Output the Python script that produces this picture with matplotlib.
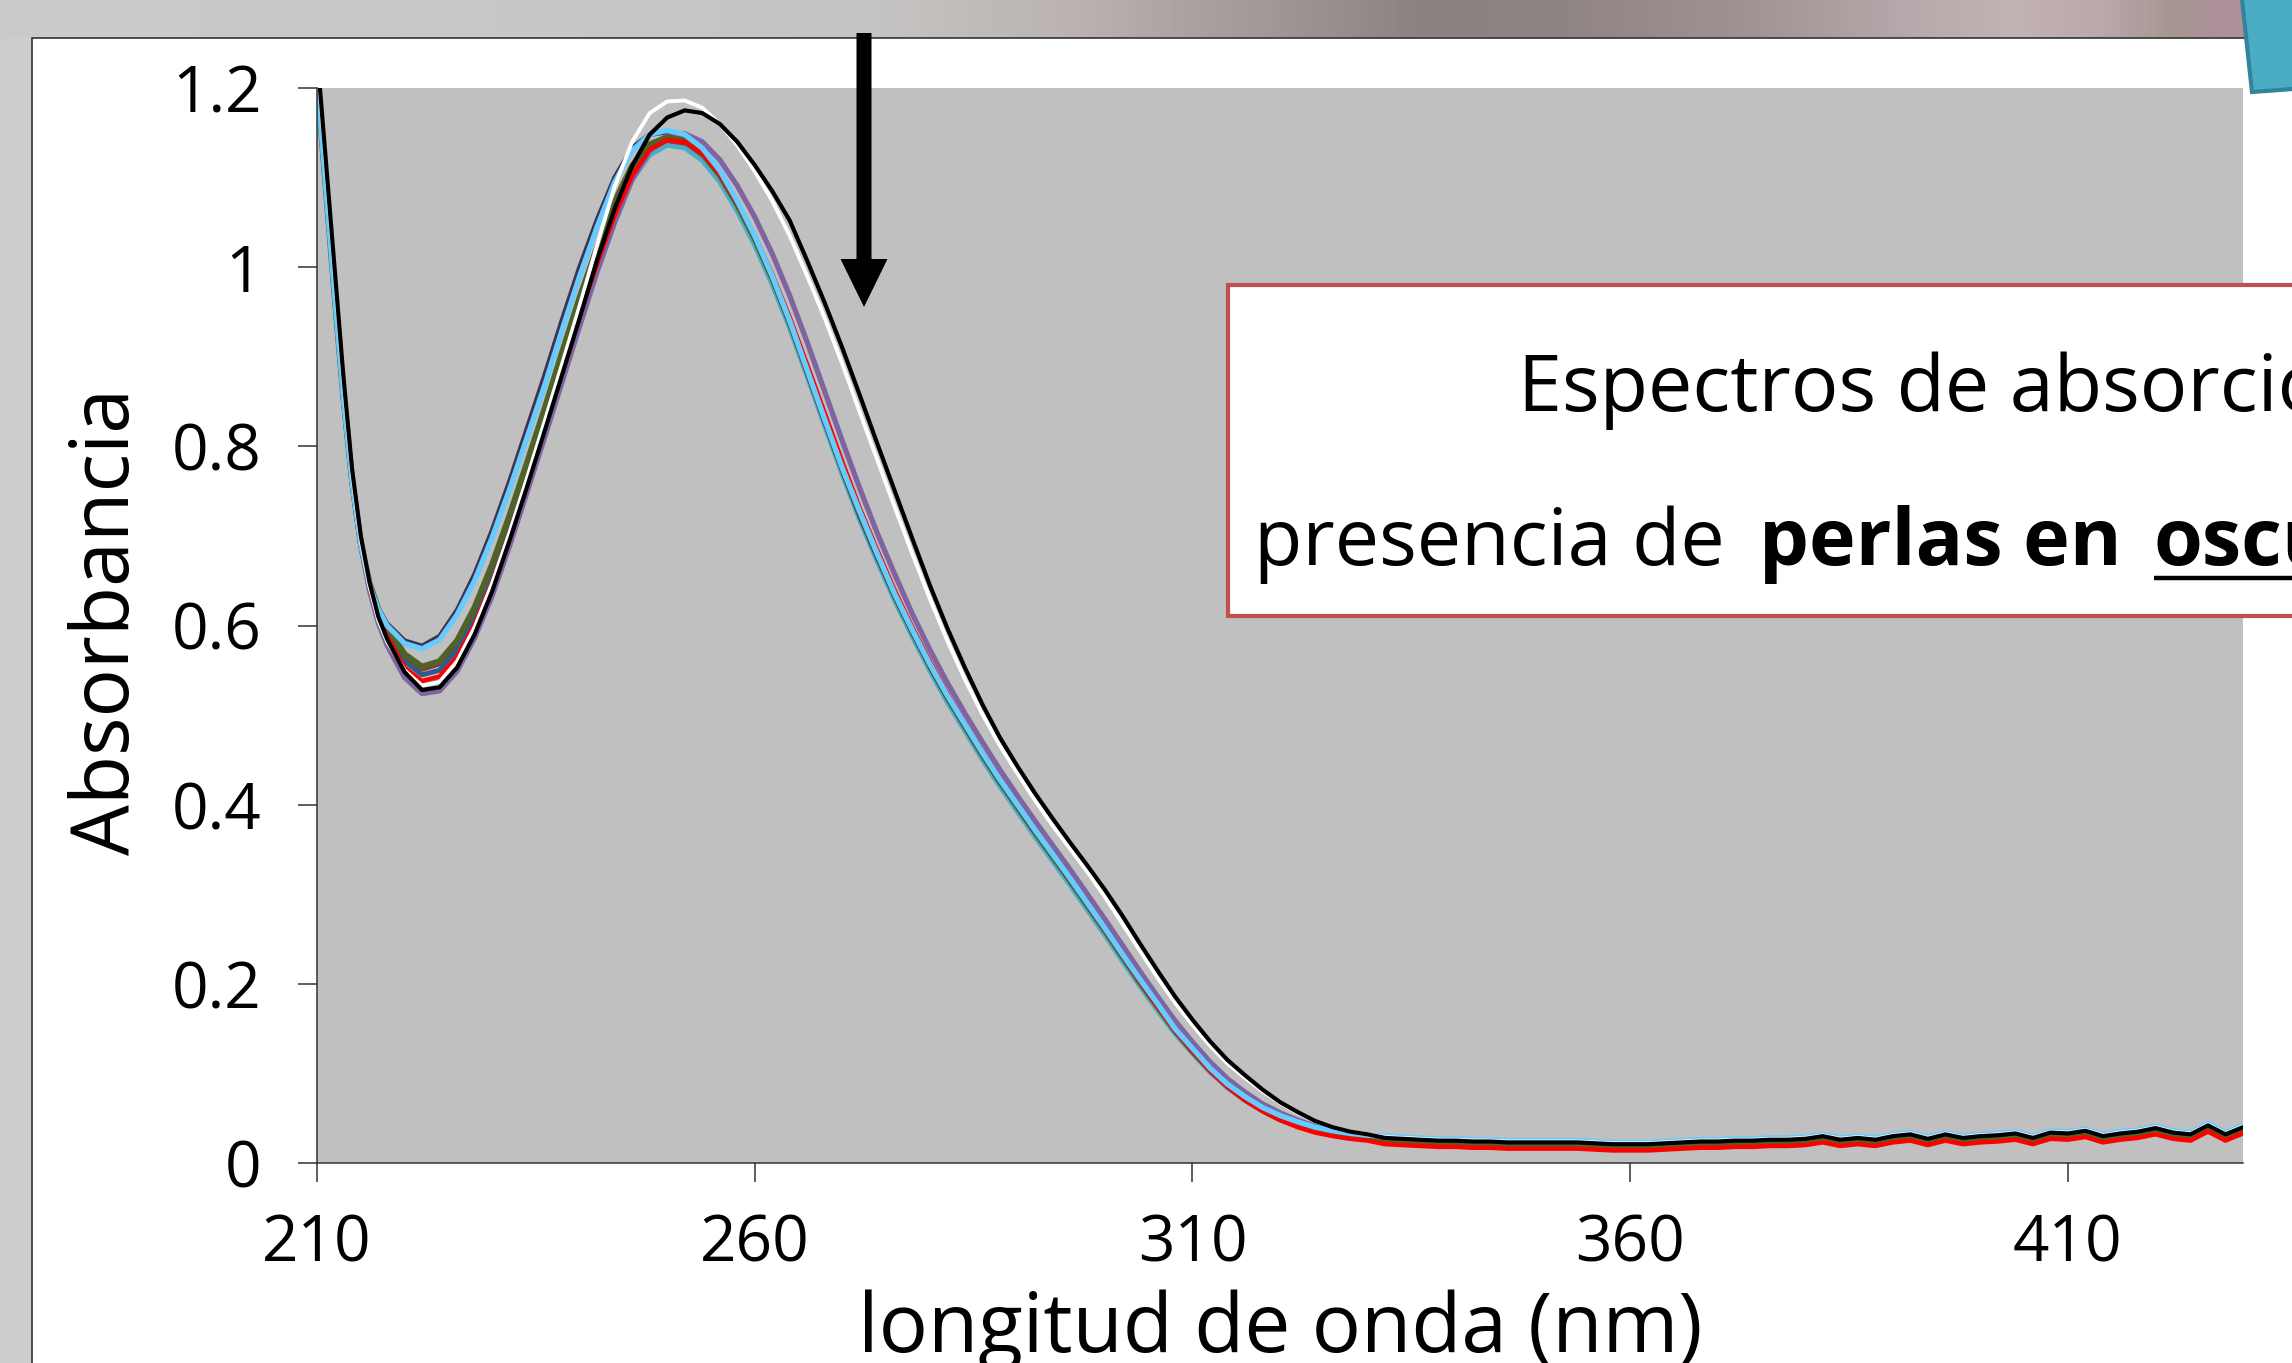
import numpy as np
import matplotlib
matplotlib.use("Agg")
import matplotlib.pyplot as plt
import matplotlib.patches as mpatches
from matplotlib.colors import LinearSegmentedColormap

plt.rcParams['font.family'] = ['Open Sans', 'DejaVu Sans']

W, H = 2292, 1363

# wavelength grid (nm)
wl_main = [210, 211, 212, 213, 214, 215, 216, 217, 218] + list(range(220, 331, 2))
wl_tail = list(range(332, 431, 2))
wl = wl_main + wl_tail

# absorbance spectra (main band 210-330 nm, then tail 332-430 nm)
cyan_main = [1.21, 1.09, 0.97, 0.855, 0.76, 0.69, 0.645, 0.618, 0.600,
             0.580, 0.574, 0.584, 0.612, 0.650, 0.698, 0.752, 0.810,
             0.868, 0.930, 0.990, 1.045, 1.095, 1.130, 1.148, 1.153,
             1.148, 1.133, 1.108, 1.074, 1.035, 0.990, 0.940, 0.885,
             0.830, 0.776, 0.727, 0.680, 0.635, 0.595, 0.557, 0.522,
             0.490, 0.458, 0.428, 0.400, 0.372, 0.345, 0.318, 0.290,
             0.262, 0.233, 0.205, 0.178, 0.150, 0.128, 0.106, 0.088,
             0.074, 0.062, 0.053, 0.046, 0.040, 0.036, 0.033, 0.031]
cyan_tail = [0.030, 0.029, 0.028, 0.027, 0.027, 0.026, 0.026, 0.025, 0.025, 0.025,
             0.025, 0.025, 0.024, 0.023, 0.023, 0.023, 0.024, 0.025, 0.026, 0.026,
             0.027, 0.027, 0.028, 0.028, 0.029, 0.032, 0.028, 0.030, 0.028, 0.032,
             0.034, 0.029, 0.034, 0.030, 0.032, 0.033, 0.035, 0.030, 0.036, 0.035,
             0.038, 0.032, 0.035, 0.037, 0.041, 0.036, 0.034, 0.044, 0.034, 0.042]

black_main = [1.24, 1.12, 1.00, 0.88, 0.775, 0.700, 0.648, 0.610, 0.585,
              0.548, 0.528, 0.531, 0.553, 0.590, 0.638, 0.695, 0.755,
              0.817, 0.880, 0.943, 1.008, 1.065, 1.113, 1.148, 1.167,
              1.175, 1.172, 1.160, 1.140, 1.114, 1.085, 1.052, 1.007,
              0.960, 0.910, 0.857, 0.803, 0.750, 0.697, 0.645, 0.597,
              0.553, 0.512, 0.475, 0.443, 0.413, 0.385, 0.358, 0.332,
              0.305, 0.276, 0.245, 0.215, 0.186, 0.160, 0.136, 0.115,
              0.098, 0.082, 0.068, 0.057, 0.047, 0.040, 0.035, 0.032]
black_tail = [0.028, 0.027, 0.026, 0.025, 0.025, 0.024, 0.024, 0.023, 0.023, 0.023,
              0.023, 0.023, 0.022, 0.021, 0.021, 0.021, 0.022, 0.023, 0.024, 0.024,
              0.025, 0.025, 0.026, 0.026, 0.027, 0.030, 0.026, 0.028, 0.026, 0.030,
              0.032, 0.027, 0.032, 0.028, 0.030, 0.031, 0.033, 0.028, 0.034, 0.033,
              0.036, 0.030, 0.033, 0.035, 0.039, 0.034, 0.032, 0.042, 0.032, 0.040]

white_main = [1.235, 1.115, 0.995, 0.875, 0.770, 0.695, 0.643, 0.606, 0.582,
              0.550, 0.533, 0.537, 0.560, 0.598, 0.647, 0.704, 0.765,
              0.828, 0.892, 0.957, 1.025, 1.090, 1.140, 1.172, 1.185,
              1.186, 1.178, 1.160, 1.136, 1.107, 1.074, 1.035, 0.990,
              0.943, 0.892, 0.838, 0.785, 0.732, 0.680, 0.630, 0.583,
              0.540, 0.501, 0.466, 0.435, 0.405, 0.377, 0.351, 0.325,
              0.297, 0.267, 0.237, 0.207, 0.179, 0.154, 0.131, 0.111,
              0.095, 0.080, 0.067, 0.056, 0.047, 0.040, 0.035, 0.032]
white_tail = [0.029, 0.028, 0.027, 0.026, 0.026, 0.025, 0.025, 0.024, 0.024, 0.024,
              0.024, 0.024, 0.023, 0.022, 0.022, 0.022, 0.023, 0.024, 0.025, 0.025,
              0.026, 0.026, 0.027, 0.027, 0.028, 0.031, 0.027, 0.029, 0.027, 0.031,
              0.033, 0.028, 0.033, 0.029, 0.031, 0.032, 0.034, 0.029, 0.035, 0.034,
              0.037, 0.031, 0.034, 0.036, 0.040, 0.035, 0.033, 0.043, 0.033, 0.041]

purple_main = [1.22, 1.10, 0.98, 0.865, 0.765, 0.690, 0.640, 0.603, 0.578,
               0.542, 0.524, 0.527, 0.549, 0.586, 0.633, 0.689, 0.749,
               0.810, 0.872, 0.934, 0.995, 1.050, 1.098, 1.130, 1.147,
               1.149, 1.140, 1.120, 1.091, 1.056, 1.015, 0.968, 0.916,
               0.861, 0.806, 0.753, 0.703, 0.657, 0.613, 0.573, 0.536,
               0.502, 0.470, 0.439, 0.410, 0.382, 0.355, 0.328, 0.300,
               0.272, 0.243, 0.214, 0.186, 0.159, 0.135, 0.113, 0.094,
               0.079, 0.066, 0.056, 0.048, 0.041, 0.036, 0.032, 0.029]
purple_tail = [0.024, 0.023, 0.022, 0.021, 0.021, 0.020, 0.020, 0.019, 0.019, 0.019,
               0.019, 0.019, 0.018, 0.017, 0.017, 0.017, 0.018, 0.019, 0.020, 0.020,
               0.021, 0.021, 0.022, 0.022, 0.023, 0.026, 0.022, 0.024, 0.022, 0.026,
               0.028, 0.023, 0.028, 0.024, 0.026, 0.027, 0.029, 0.024, 0.030, 0.029,
               0.032, 0.026, 0.029, 0.031, 0.035, 0.030, 0.028, 0.038, 0.028, 0.036]

red_main = [1.215, 1.095, 0.975, 0.860, 0.762, 0.690, 0.642, 0.610, 0.588,
            0.553, 0.538, 0.543, 0.565, 0.601, 0.648, 0.703, 0.762,
            0.822, 0.884, 0.946, 1.004, 1.058, 1.102, 1.131, 1.142,
            1.140, 1.127, 1.104, 1.072, 1.035, 0.992, 0.944, 0.891,
            0.837, 0.783, 0.731, 0.684, 0.639, 0.598, 0.560, 0.524,
            0.491, 0.459, 0.429, 0.400, 0.372, 0.345, 0.318, 0.290,
            0.261, 0.232, 0.203, 0.175, 0.148, 0.125, 0.103, 0.085,
            0.070, 0.058, 0.048, 0.040, 0.034, 0.030, 0.027, 0.025]
red_tail = [0.021, 0.020, 0.019, 0.018, 0.018, 0.017, 0.017, 0.016, 0.016, 0.016,
            0.016, 0.016, 0.015, 0.014, 0.014, 0.014, 0.015, 0.016, 0.017, 0.017,
            0.018, 0.018, 0.019, 0.019, 0.020, 0.023, 0.019, 0.021, 0.019, 0.023,
            0.025, 0.020, 0.025, 0.021, 0.023, 0.024, 0.026, 0.021, 0.027, 0.026,
            0.029, 0.023, 0.026, 0.028, 0.032, 0.027, 0.025, 0.035, 0.025, 0.033]

olive_main = [1.21, 1.09, 0.97, 0.857, 0.762, 0.692, 0.647, 0.618, 0.598,
              0.568, 0.554, 0.560, 0.583, 0.620, 0.668, 0.723, 0.782,
              0.842, 0.905, 0.966, 1.022, 1.073, 1.113, 1.137, 1.145,
              1.141, 1.127, 1.103, 1.070, 1.032, 0.988, 0.939, 0.885,
              0.830, 0.776, 0.725, 0.679, 0.634, 0.594, 0.556, 0.521,
              0.488, 0.456, 0.426, 0.398, 0.370, 0.343, 0.316, 0.288,
              0.260, 0.231, 0.202, 0.175, 0.148, 0.125, 0.104, 0.086,
              0.071, 0.059, 0.049, 0.042, 0.036, 0.032, 0.029, 0.027]
olive_tail = [0.023, 0.022, 0.021, 0.020, 0.020, 0.019, 0.019, 0.018, 0.018, 0.018,
              0.018, 0.018, 0.017, 0.016, 0.016, 0.016, 0.017, 0.018, 0.019, 0.019,
              0.020, 0.020, 0.021, 0.021, 0.022, 0.025, 0.021, 0.023, 0.021, 0.025,
              0.027, 0.022, 0.027, 0.023, 0.025, 0.026, 0.028, 0.023, 0.029, 0.028,
              0.031, 0.025, 0.028, 0.030, 0.034, 0.029, 0.027, 0.037, 0.027, 0.035]

blue_main = [1.21, 1.092, 0.972, 0.858, 0.762, 0.691, 0.645, 0.614, 0.593,
             0.560, 0.545, 0.550, 0.573, 0.610, 0.657, 0.712, 0.771,
             0.831, 0.894, 0.955, 1.013, 1.066, 1.108, 1.135, 1.145,
             1.142, 1.128, 1.105, 1.072, 1.034, 0.990, 0.941, 0.887,
             0.832, 0.778, 0.726, 0.680, 0.635, 0.595, 0.557, 0.522,
             0.489, 0.457, 0.427, 0.399, 0.371, 0.344, 0.317, 0.289,
             0.261, 0.232, 0.203, 0.176, 0.149, 0.126, 0.105, 0.087,
             0.072, 0.060, 0.050, 0.043, 0.037, 0.033, 0.030, 0.028]
blue_tail = [0.025, 0.024, 0.023, 0.022, 0.022, 0.021, 0.021, 0.020, 0.020, 0.020,
             0.020, 0.020, 0.019, 0.018, 0.018, 0.018, 0.019, 0.020, 0.021, 0.021,
             0.022, 0.022, 0.023, 0.023, 0.024, 0.027, 0.023, 0.025, 0.023, 0.027,
             0.029, 0.024, 0.029, 0.025, 0.027, 0.028, 0.030, 0.025, 0.031, 0.030,
             0.033, 0.027, 0.030, 0.032, 0.036, 0.031, 0.029, 0.039, 0.029, 0.037]

navy_main = [1.21, 1.088, 0.968, 0.853, 0.758, 0.689, 0.645, 0.619, 0.602,
             0.583, 0.577, 0.588, 0.617, 0.657, 0.706, 0.761, 0.820,
             0.879, 0.941, 1.000, 1.053, 1.100, 1.133, 1.148, 1.151,
             1.145, 1.130, 1.105, 1.071, 1.032, 0.987, 0.937, 0.882,
             0.827, 0.773, 0.722, 0.676, 0.632, 0.592, 0.554, 0.519,
             0.487, 0.455, 0.425, 0.397, 0.369, 0.342, 0.315, 0.287,
             0.259, 0.230, 0.202, 0.175, 0.148, 0.126, 0.105, 0.087,
             0.072, 0.060, 0.051, 0.044, 0.038, 0.034, 0.031, 0.029]
navy_tail = [0.027, 0.026, 0.025, 0.024, 0.024, 0.023, 0.023, 0.022, 0.022, 0.022,
             0.022, 0.022, 0.021, 0.020, 0.020, 0.020, 0.021, 0.022, 0.023, 0.023,
             0.024, 0.024, 0.025, 0.025, 0.026, 0.029, 0.025, 0.027, 0.025, 0.029,
             0.031, 0.026, 0.031, 0.027, 0.029, 0.030, 0.032, 0.027, 0.033, 0.032,
             0.035, 0.029, 0.032, 0.034, 0.038, 0.033, 0.031, 0.041, 0.031, 0.039]

brown_main = [1.21, 1.09, 0.97, 0.856, 0.761, 0.691, 0.646, 0.616, 0.596,
              0.565, 0.551, 0.557, 0.580, 0.617, 0.665, 0.720, 0.779,
              0.839, 0.901, 0.961, 1.017, 1.067, 1.106, 1.131, 1.140,
              1.136, 1.121, 1.097, 1.064, 1.026, 0.982, 0.933, 0.879,
              0.824, 0.770, 0.719, 0.673, 0.629, 0.589, 0.551, 0.516,
              0.484, 0.452, 0.422, 0.394, 0.366, 0.339, 0.312, 0.284,
              0.256, 0.227, 0.199, 0.172, 0.146, 0.123, 0.102, 0.084,
              0.070, 0.058, 0.048, 0.041, 0.035, 0.031, 0.028, 0.026]
brown_tail = [0.022, 0.021, 0.020, 0.019, 0.019, 0.018, 0.018, 0.017, 0.017, 0.017,
              0.017, 0.017, 0.016, 0.015, 0.015, 0.015, 0.016, 0.017, 0.018, 0.018,
              0.019, 0.019, 0.020, 0.020, 0.021, 0.024, 0.020, 0.022, 0.020, 0.024,
              0.026, 0.021, 0.026, 0.022, 0.024, 0.025, 0.027, 0.022, 0.028, 0.027,
              0.030, 0.024, 0.027, 0.029, 0.033, 0.028, 0.026, 0.036, 0.026, 0.034]

teal_main = [1.215, 1.095, 0.973, 0.857, 0.758, 0.687, 0.637, 0.603, 0.580,
             0.549, 0.536, 0.541, 0.563, 0.600, 0.648, 0.703, 0.762,
             0.823, 0.885, 0.946, 1.003, 1.055, 1.097, 1.125, 1.136,
             1.133, 1.119, 1.095, 1.062, 1.024, 0.980, 0.931, 0.877,
             0.822, 0.768, 0.717, 0.671, 0.627, 0.587, 0.549, 0.514,
             0.482, 0.450, 0.420, 0.392, 0.364, 0.337, 0.310, 0.282,
             0.254, 0.225, 0.197, 0.170, 0.144, 0.122, 0.101, 0.084,
             0.070, 0.058, 0.049, 0.042, 0.037, 0.033, 0.030, 0.028]
teal_tail = [0.023, 0.022, 0.021, 0.020, 0.020, 0.019, 0.019, 0.018, 0.018, 0.018,
             0.018, 0.018, 0.017, 0.016, 0.016, 0.016, 0.017, 0.018, 0.019, 0.019,
             0.020, 0.020, 0.021, 0.021, 0.022, 0.025, 0.021, 0.023, 0.021, 0.025,
             0.027, 0.022, 0.027, 0.023, 0.025, 0.026, 0.028, 0.023, 0.029, 0.028,
             0.031, 0.025, 0.028, 0.030, 0.034, 0.029, 0.027, 0.037, 0.027, 0.035]

x_ticks = [210, 260, 310, 360, 410]
y_ticks = [0, 0.2, 0.4, 0.6, 0.8, 1, 1.2]
y_ticklabels = ['0', '0.2', '0.4', '0.6', '0.8', '1', '1.2']

# drawing order bottom -> top: (values, colour, linewidth)
series = [
    (brown_main + brown_tail, '#943634', 3.3),
    (teal_main + teal_tail, '#4BACC6', 3.3),
    (navy_main + navy_tail, '#403151', 3.5),
    (blue_main + blue_tail, '#2C5D8A', 3.5),
    (purple_main + purple_tail, '#8064A2', 3.8),
    (olive_main + olive_tail, '#4F6228', 4.4),
    (red_main + red_tail, '#FF0000', 3.2),
    (cyan_main + cyan_tail, '#66CCFF', 3.8),
    (white_main + white_tail, '#FFFFFF', 2.8),
    (black_main + black_tail, '#000000', 3.0),
]

fig = plt.figure(figsize=(W / 100, H / 100), dpi=100)
fig.patch.set_facecolor('#CDCDCD')

# slide background: grey with a tinted strip on top, white chart area
bg = fig.add_axes([0, 0, 1, 1], zorder=-5)
strip_pos = [0, 0.17, 0.38, 0.47, 0.56, 0.62, 0.68, 0.76, 0.83, 0.88, 0.92, 0.95, 0.975, 1]
strip_col = ['#CBCBCB', '#C9C9C9', '#C6C4C3', '#BAB3B1', '#A09694', '#8C827F', '#8E8482',
             '#A09291', '#B6A8AA', '#C2B3B5', '#BBA8AA', '#A69692', '#AE909A', '#AE909A']
cmap = LinearSegmentedColormap.from_list('strip', list(zip(strip_pos, strip_col)))
bg.imshow(np.linspace(0, 1, 800).reshape(1, -1), cmap=cmap, extent=(0, W, 38, 0),
          aspect='auto', interpolation='bilinear')
bg.add_patch(mpatches.Rectangle((32, 38), W, H, facecolor='white',
                                edgecolor='#333333', lw=1.2))
bg.set_xlim(0, W)
bg.set_ylim(H, 0)
bg.axis('off')

# the chart itself
ax = fig.add_axes([317 / W, (H - 1163) / H, (2243 - 317) / W, (1163 - 88) / H], zorder=1)
ax.set_facecolor('#C0C0C0')
for vals, col, lw in series:
    ax.plot(wl, vals, color=col, lw=lw, solid_joinstyle='round', solid_capstyle='round')

ax.set_xlim(210, 430)
ax.set_ylim(0, 1.2)
ax.set_xticks(x_ticks)
ax.set_xticklabels([str(t) for t in x_ticks])
ax.set_yticks(y_ticks)
ax.set_yticklabels(y_ticklabels)
ax.tick_params(direction='out', length=13.7, width=1.1, color='#333333', labelsize=46)
ax.tick_params(axis='y', pad=26)
ax.tick_params(axis='x', pad=22)
for s in ['top', 'right']:
    ax.spines[s].set_visible(False)
for s in ['left', 'bottom']:
    ax.spines[s].set_color('#333333')
    ax.spines[s].set_linewidth(1.1)

# overlay in pixel coordinates for labels, arrow and text box
ov = fig.add_axes([0, 0, 1, 1], zorder=5)
ov.set_xlim(0, W)
ov.set_ylim(H, 0)
ov.axis('off')

ov.text(1280, 1352, 'longitud de onda (nm)', ha='center', va='baseline', fontsize=59)
ov.text(129, 621, 'Absorbancia', rotation=90, rotation_mode='anchor',
        ha='center', va='baseline', fontsize=58)

ov.add_patch(mpatches.FancyArrow(864, 33, 0, 274, width=15, head_width=47, head_length=48,
                                 length_includes_head=True, color='black', lw=0))

ov.add_patch(mpatches.Rectangle((1228, 285), 1200, 331, facecolor='white',
                                edgecolor='#C0504D', lw=3))
ov.text(1518, 411, 'Espectros de absorción', fontsize=57, va='baseline', ha='left')

# second line: normal + bold + bold underlined pieces, chained left to right
fig.canvas.draw()
renderer = fig.canvas.get_renderer()
x = 1254
pieces = [('presencia de', 'normal', 34), ('perlas en', 'bold', 32), ('oscuridad', 'bold', 0)]
for txt, weight, gap in pieces:
    t = ov.text(x, 565, txt, fontsize=57, va='baseline', ha='left', fontweight=weight)
    bb = t.get_window_extent(renderer)
    if txt == 'oscuridad':
        ov.plot([x, x + bb.width], [578, 578], color='black', lw=3.2, solid_capstyle='butt')
    x = x + bb.width + gap

ov.add_patch(mpatches.Polygon([(2241, -10), (2252, 92), (2320, 87), (2320, -10)],
                              closed=True, facecolor='#4BACC6', edgecolor='#31849B', lw=3))

fig.savefig('out.png', dpi=100, facecolor=fig.get_facecolor())
